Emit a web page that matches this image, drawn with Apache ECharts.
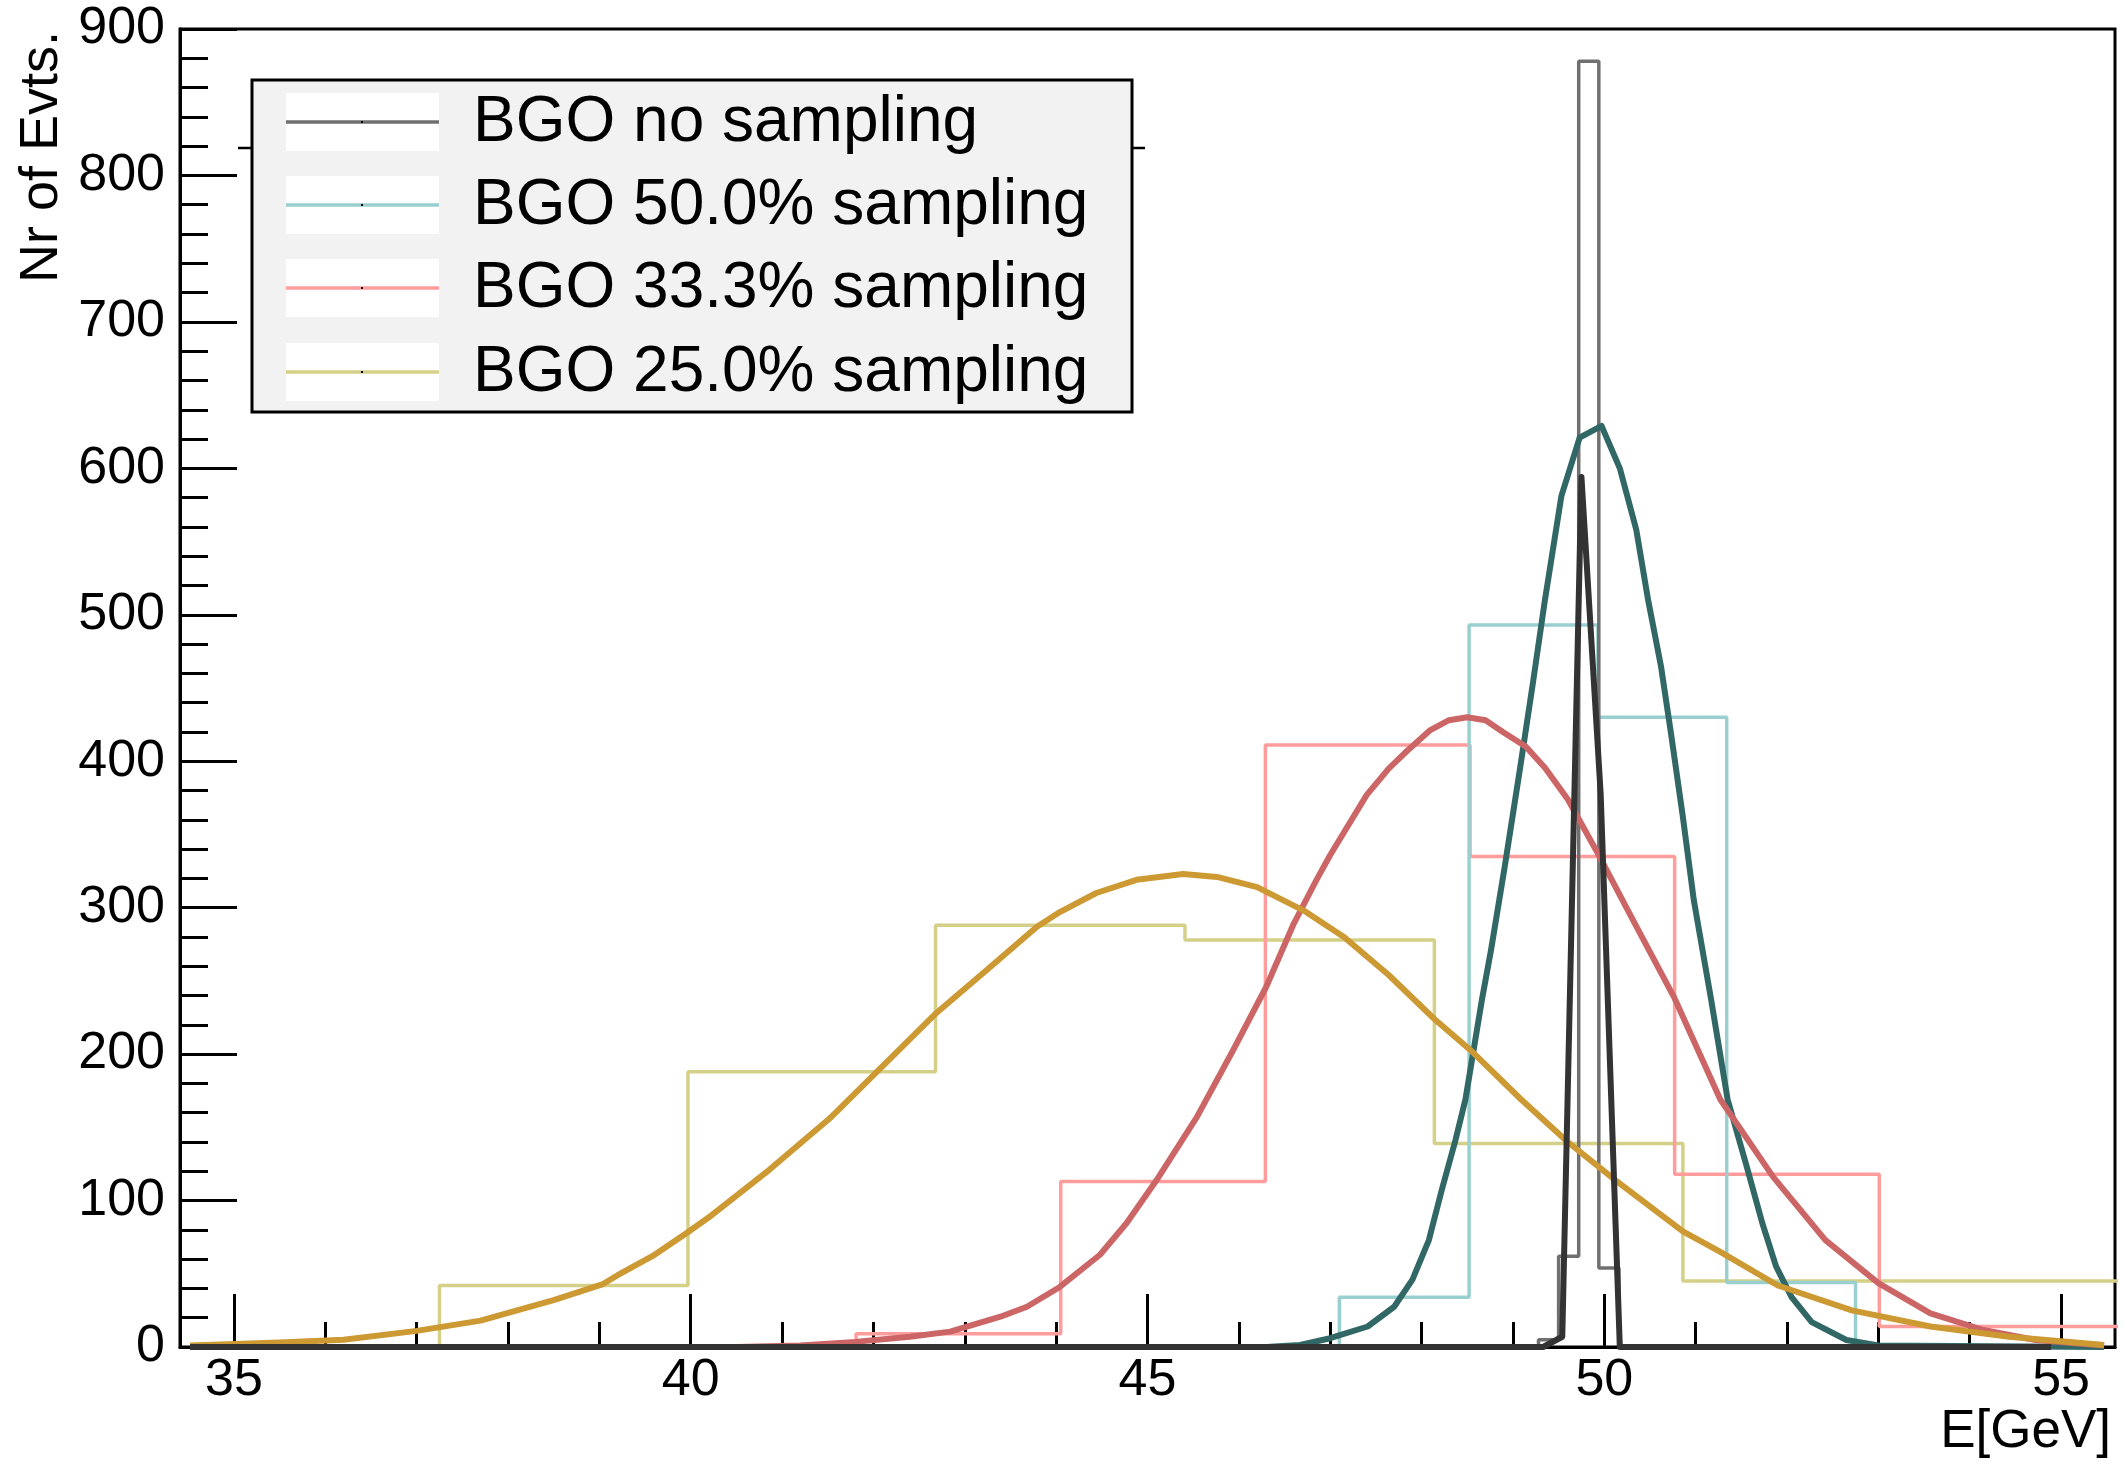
<!DOCTYPE html>
<html>
<head>
<meta charset="utf-8">
<title>BGO sampling</title>
<script src="https://cdn.jsdelivr.net/npm/echarts/dist/echarts.min.js"></script>
<style>
  html, body { margin: 0; padding: 0; background: #fff; }
  #chart { width: 2124px; height: 1466px; }
</style>
</head>
<body>
<div id="chart"></div>
<script>
// legend names
const NAMES = ['BGO no sampling', 'BGO 50.0% sampling', 'BGO 33.3% sampling', 'BGO 25.0% sampling'];

// histograms: bin edges + counts
const EDGES_NONE = [49.28, 49.50, 49.72, 49.94, 50.16];
const COUNTS_NONE = [5, 62, 878, 54];
const EDGES_50 = [47.10, 48.52, 49.93, 51.34, 52.75];
const COUNTS_50 = [34, 493, 430, 44];
const EDGES_33 = [41.81, 44.05, 46.29, 48.53, 50.77, 53.01, 55.25, 57.49];
const COUNTS_33 = [9, 113, 411, 335, 118, 14, 14];
const EDGES_25 = [37.25, 39.97, 42.68, 45.41, 48.14, 50.86, 53.59, 56.32];
const COUNTS_25 = [42, 188, 288, 278, 139, 45, 45];

// fitted curves
const FIT_NONE_X = [34.52, 49.33, 49.54, 49.75, 49.96, 50.17, 54.89];
const FIT_NONE_Y = [0, 0, 7, 594, 378, 0, 0];

const FIT_50_X = [34.52, 46.30, 46.67, 47.00, 47.41, 47.70, 47.90, 48.08, 48.22, 48.37, 48.48, 48.66, 48.76, 48.91,
  49.08, 49.22, 49.35, 49.53, 49.73, 49.97, 50.17, 50.35, 50.48, 50.62, 50.73, 50.86, 50.98, 51.17, 51.35, 51.56,
  51.73, 51.88, 52.05, 52.27, 52.65, 53.00, 55.47];
const FIT_50_Y = [0, 0, 1.4, 6, 14, 27.5, 46, 73, 107, 141, 169, 237, 271, 328,
  396, 454, 510, 581, 621, 629, 600, 558, 510, 465, 419, 362, 305, 237, 169, 123,
  84.5, 55, 34, 17, 4.8, 1, 0];

const FIT_33_X = [34.52, 40.50, 41.20, 41.80, 42.40, 42.84, 43.39, 43.68, 44.04, 44.48, 44.77, 45.10, 45.54, 45.94,
  46.30, 46.60, 46.85, 47.00, 47.40, 47.64, 47.84, 48.09, 48.30, 48.50, 48.70, 48.89, 49.14, 49.35, 49.60, 49.93,
  50.31, 50.77, 51.27, 51.85, 52.42, 53.00, 53.57, 54.15, 54.72, 55.47];
const FIT_33_Y = [0, 0, 1, 3.5, 7, 10.5, 20.7, 27.5, 41, 63, 84.5, 114, 157, 203,
  246, 289, 319, 336, 377, 395, 407, 421, 428, 430, 428, 420, 410, 395.5, 374, 337,
  292, 238, 169, 116, 73, 43.6, 23, 11.6, 4.8, 1];

const FIT_25_X = [34.52, 35.50, 36.20, 37.00, 37.70, 38.50, 39.04, 39.20, 39.58, 39.96, 40.23, 40.86, 41.52, 42.04,
  42.67, 43.25, 43.79, 44.04, 44.44, 44.88, 45.39, 45.76, 46.20, 46.71, 47.15, 47.64, 48.14, 48.53, 49.09, 49.60,
  50.12, 50.86, 51.27, 51.90, 52.71, 53.57, 54.43, 55.47];
const FIT_25_Y = [1, 3, 5, 11, 18, 32, 43, 49, 62, 78, 90, 121, 156, 188,
  227, 258, 287, 297, 310, 319, 323, 321, 314, 298, 280, 254, 224, 203, 169, 140,
  114, 79, 65, 42, 25, 14, 7, 1.4];

// axis ticks
const X_MAJOR = [35, 40, 45, 50, 55];
const X_MINOR = [];
for (let v = 35; v <= 55; v++) X_MINOR.push(v);
const X_MIN = 34.41, X_MAX = 55.59;

const FONT = "'Liberation Sans', Arial, Helvetica, sans-serif";
const HIST_COLORS = ['#707070', '#9ACFCF', '#FF9C9C', '#D4D088'];
const FIT_COLORS = ['#333333', '#316866', '#CC6666', '#CC9933'];

function histPoints(edges, counts) {
  const pts = [[edges[0], 0]];
  for (let i = 0; i < counts.length; i++) {
    pts.push([edges[i], counts[i]], [edges[i + 1], counts[i]]);
  }
  pts.push([edges[edges.length - 1], 0]);
  return pts;
}
function zip(xs, ys) { return xs.map((x, i) => [x, ys[i]]); }

function histSeries(name, pts, color) {
  return { name: name, type: 'line', data: pts, symbol: 'none', silent: true,
    lineStyle: { color: color, width: 3.5 }, z: 2 };
}
function fitSeries(name, pts, color) {
  return { name: name, type: 'line', data: pts, symbol: 'none', silent: true,
    lineStyle: { color: color, width: 6, join: 'round' }, z: 3 };
}

var myChart = echarts.init(document.getElementById('chart'));

// legend drawn by hand (ROOT style)
const legendRows = [122, 205, 288, 372];
const legendEls = [
  { type: 'line', shape: { x1: 238, y1: 148, x2: 1145, y2: 148 }, style: { stroke: '#000', lineWidth: 2.5 }, z: 50 },
  { type: 'rect', shape: { x: 252, y: 80, width: 880, height: 332 },
    style: { fill: '#F2F2F2', stroke: '#000', lineWidth: 3 }, z: 51 }
];
legendRows.forEach(function (cy, i) {
  legendEls.push({ type: 'rect', shape: { x: 286, y: cy - 29, width: 153, height: 58 }, style: { fill: '#fff' }, z: 52 });
  legendEls.push({ type: 'line', shape: { x1: 286, y1: cy, x2: 439, y2: cy },
    style: { stroke: HIST_COLORS[i], lineWidth: 3.5 }, z: 53 });
  legendEls.push({ type: 'rect', shape: { x: 361, y: cy - 1, width: 2, height: 2 }, style: { fill: '#000' }, z: 54 });
  legendEls.push({ type: 'text', x: 473, y: cy + 1, z: 54,
    style: { text: NAMES[i], fill: '#000', fontSize: 64, fontFamily: FONT, align: 'left', verticalAlign: 'middle' } });
});

var option = {
  backgroundColor: '#fff',
  animation: false,
  grid: {
    left: 180, right: 9, top: 29, bottom: 119,
    show: true, borderColor: '#000', borderWidth: 3, backgroundColor: '#fff',
    containLabel: false, outerBoundsMode: 'none'
  },
  xAxis: [{
    type: 'value', min: X_MIN, max: X_MAX, position: 'bottom',
    axisLine: { onZero: false, lineStyle: { color: '#000', width: 3 } },
    splitLine: { show: false },
    axisTick: { inside: true, length: 53, customValues: X_MAJOR, lineStyle: { color: '#000', width: 3 } },
    axisLabel: { customValues: X_MAJOR, fontSize: 52, color: '#000', fontFamily: FONT, margin: 34, verticalAlign: 'middle' }
  }, {
    type: 'value', min: X_MIN, max: X_MAX, position: 'bottom',
    axisLine: { show: false },
    splitLine: { show: false },
    axisTick: { inside: true, length: 25, customValues: X_MINOR, lineStyle: { color: '#000', width: 3 } },
    axisLabel: { show: false }
  }],
  yAxis: {
    type: 'value', min: 0, max: 900, interval: 100,
    axisLine: { show: true, lineStyle: { color: '#000', width: 3 } },
    splitLine: { show: false },
    axisTick: { inside: true, length: 57, lineStyle: { color: '#000', width: 3 } },
    minorTick: { show: true, splitNumber: 5, length: 28, lineStyle: { color: '#000', width: 3 } },
    axisLabel: { fontSize: 52, color: '#000', fontFamily: FONT, margin: 15 }
  },
  graphic: legendEls.concat([
    { type: 'text', x: 42, y: 31, rotation: Math.PI / 2, z: 60,
      style: { text: 'Nr of Evts.', fill: '#000', fontSize: 54, fontFamily: FONT, align: 'right', verticalAlign: 'middle' } },
    { type: 'text', x: 2111, y: 1432, z: 60,
      style: { text: 'E[GeV]', fill: '#000', fontSize: 53, fontFamily: FONT, align: 'right', verticalAlign: 'middle' } }
  ]),
  series: [
    histSeries(NAMES[3], histPoints(EDGES_25, COUNTS_25), HIST_COLORS[3]),
    histSeries(NAMES[2], histPoints(EDGES_33, COUNTS_33), HIST_COLORS[2]),
    histSeries(NAMES[1], histPoints(EDGES_50, COUNTS_50), HIST_COLORS[1]),
    histSeries(NAMES[0], histPoints(EDGES_NONE, COUNTS_NONE), HIST_COLORS[0]),
    fitSeries(NAMES[1] + ' fit', zip(FIT_50_X, FIT_50_Y), FIT_COLORS[1]),
    fitSeries(NAMES[2] + ' fit', zip(FIT_33_X, FIT_33_Y), FIT_COLORS[2]),
    fitSeries(NAMES[3] + ' fit', zip(FIT_25_X, FIT_25_Y), FIT_COLORS[3]),
    fitSeries(NAMES[0] + ' fit', zip(FIT_NONE_X, FIT_NONE_Y), FIT_COLORS[0])
  ]
};
myChart.setOption(option);
window.addEventListener('resize', function () { myChart.resize(); });
</script>
</body>
</html>
